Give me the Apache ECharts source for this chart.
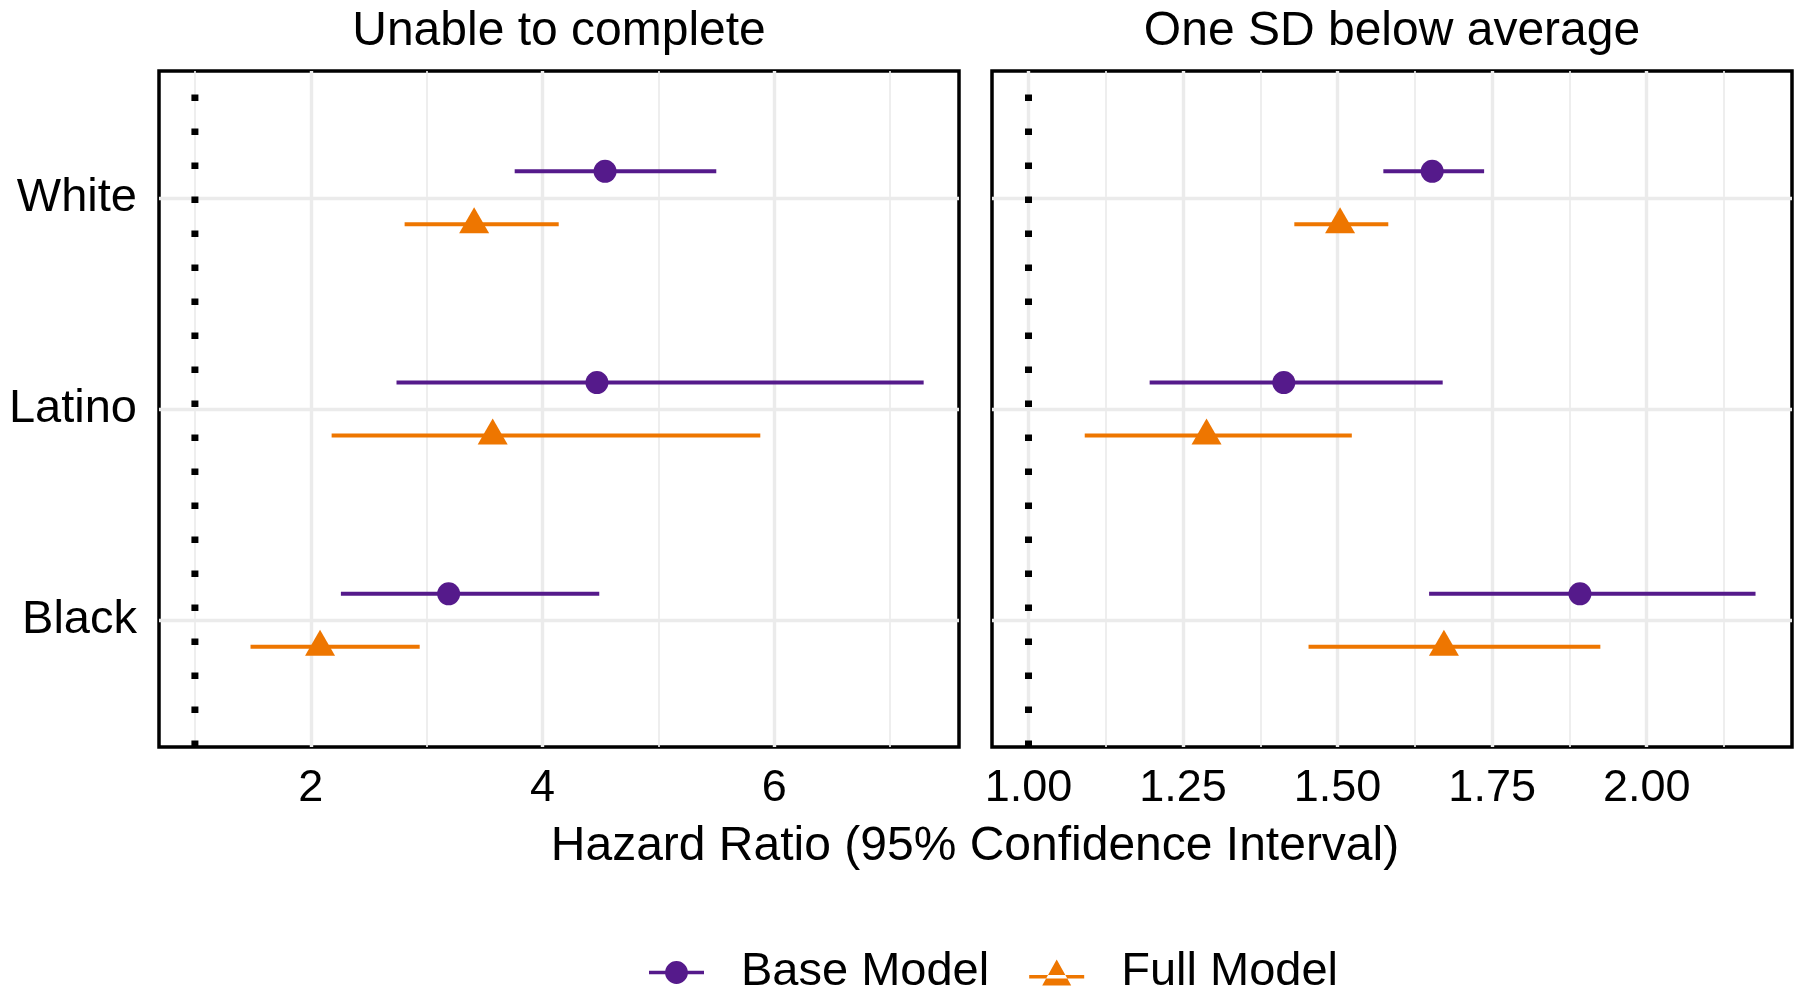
<!DOCTYPE html>
<html>
<head>
<meta charset="utf-8">
<title>Hazard Ratio</title>
<script src="https://cdn.jsdelivr.net/npm/echarts@6/dist/echarts.min.js"></script>
<style>
    html, body { margin: 0; padding: 0; background: #fff; }
    #chart { width: 1800px; height: 1003px; }
</style>
</head>
<body>
<div id="chart"></div>
<script>
// 类别（从上到下）
var categories = ['White', 'Latino', 'Black'];
var categoryPos = [3, 2, 1];

// 左图：Unable to complete
var ucBaseEst = [4.54, 4.47, 3.19];
var ucBaseLo = [3.76, 2.74, 2.26];
var ucBaseHi = [5.50, 7.29, 4.49];
var ucFullEst = [3.41, 3.57, 2.08];
var ucFullLo = [2.81, 2.18, 1.48];
var ucFullHi = [4.14, 5.88, 2.94];

// 右图：One SD below average
var sdBaseEst = [1.653, 1.413, 1.892];
var sdBaseLo = [1.574, 1.196, 1.648];
var sdBaseHi = [1.737, 1.670, 2.176];
var sdFullEst = [1.504, 1.288, 1.672];
var sdFullLo = [1.430, 1.091, 1.453];
var sdFullHi = [1.582, 1.523, 1.925];

// 刻度
var ucTicks = [2, 4, 6];
var ucMinor = [1, 3, 5, 7];
var sdTicks = [1.00, 1.25, 1.50, 1.75, 2.00];
var sdMinor = [1.125, 1.375, 1.625, 1.875, 2.125];

var refValue = 1;          // 参考线 HR = 1
var yMin = 0.4, yMax = 3.6;
var dodge = 0.125;

var purple = '#551A8B';
var orange = '#EE7600';
var font = "'Liberation Sans', Arial, Helvetica, sans-serif";

// 误差线数据 [lo, hi, y]
function barData(lo, hi, off) {
    var arr = [];
    for (var i = 0; i < lo.length; i++) {
        arr.push([lo[i], hi[i], categoryPos[i] + off]);
    }
    return arr;
}
function pointData(est, off) {
    var arr = [];
    for (var i = 0; i < est.length; i++) {
        arr.push([est[i], categoryPos[i] + off]);
    }
    return arr;
}

function renderBar(color) {
    return function (params, api) {
        var p1 = api.coord([api.value(0), api.value(2)]);
        var p2 = api.coord([api.value(1), api.value(2)]);
        return {
            type: 'line',
            shape: { x1: p1[0], y1: p1[1], x2: p2[0], y2: p2[1] },
            style: { stroke: color, lineWidth: 4 }
        };
    };
}

function xAxes(gridIndex, min, max, ticks, minor, fmt) {
    return [{
        type: 'value', gridIndex: gridIndex, position: 'bottom',
        min: min, max: max,
        axisLine: { show: false },
        axisTick: { show: false, customValues: ticks },
        axisLabel: {
            customValues: ticks, formatter: fmt, color: '#000',
            fontSize: 45, fontFamily: font, margin: 19
        },
        splitLine: { show: true, lineStyle: { color: '#ebebeb', width: 3.4 } }
    }, {
        type: 'value', gridIndex: gridIndex, position: 'bottom',
        min: min, max: max,
        axisLine: { show: false },
        axisTick: { show: false, customValues: minor },
        axisLabel: { show: false, customValues: minor },
        splitLine: { show: true, lineStyle: { color: '#ebebeb', width: 1.7 } }
    }];
}

function yAxis(gridIndex, showLabel) {
    return {
        type: 'value', gridIndex: gridIndex,
        min: yMin, max: yMax,
        axisLine: { show: false },
        axisTick: { show: false, customValues: categoryPos },
        axisLabel: {
            show: showLabel, customValues: categoryPos, color: '#000',
            fontSize: 47, fontFamily: font, margin: 22, padding: [5, 0, 0, 0],
            formatter: function (v) {
                return categories[categoryPos.indexOf(Math.round(v))];
            }
        },
        splitLine: { show: true, lineStyle: { color: '#ebebeb', width: 3.4 } }
    };
}

function panelSeries(idx, baseEst, baseLo, baseHi, fullEst, fullLo, fullHi) {
    var xa = idx * 2;
    return [{
        name: 'ref' + idx, type: 'line', xAxisIndex: xa, yAxisIndex: idx,
        data: [[refValue, yMin], [refValue, yMax]],
        symbol: 'none', silent: true, z: 3,
        lineStyle: { color: '#000', width: 7, type: [6.5, 27.5], cap: 'butt' }
    }, {
        name: 'Base Model', type: 'custom', xAxisIndex: xa, yAxisIndex: idx, z: 4,
        renderItem: renderBar(purple), data: barData(baseLo, baseHi, dodge)
    }, {
        name: 'Full Model', type: 'custom', xAxisIndex: xa, yAxisIndex: idx, z: 4,
        renderItem: renderBar(orange), data: barData(fullLo, fullHi, -dodge)
    }, {
        name: 'Base Model', type: 'scatter', xAxisIndex: xa, yAxisIndex: idx, z: 5,
        symbol: 'circle', symbolSize: 23,
        itemStyle: { color: purple, opacity: 1 },
        data: pointData(baseEst, dodge)
    }, {
        name: 'Full Model', type: 'scatter', xAxisIndex: xa, yAxisIndex: idx, z: 5,
        symbol: 'triangle', symbolSize: [30, 26], symbolOffset: [0, -4],
        itemStyle: { color: orange, opacity: 1 },
        data: pointData(fullEst, -dodge)
    }];
}

var gridBox = { top: 71, height: 676, width: 800, show: true, borderColor: '#000', borderWidth: 3.5, backgroundColor: 'transparent' };

var option = {
    animation: false,
    backgroundColor: '#fff',
    grid: [
        Object.assign({ left: 159 }, gridBox),
        Object.assign({ left: 992 }, gridBox)
    ],
    xAxis: xAxes(0, 0.69, 7.595, ucTicks, ucMinor, function (v) { return String(v); })
        .concat(xAxes(1, 0.941, 2.235, sdTicks, sdMinor, function (v) { return v.toFixed(2); })),
    yAxis: [yAxis(0, true), yAxis(1, false)],
    legend: {
        left: 644, top: 944,
        itemWidth: 55, itemHeight: 26, itemGap: 40,
        textStyle: { color: '#000', fontSize: 47, fontFamily: font, padding: [0, 0, 0, 32] },
        data: [{
            name: 'Base Model',
            icon: 'path://M0,11.5 L55,11.5 L55,15 L0,15 Z M27.5,1.9 A11.4,11.4 0 1,1 27.49,1.9 Z',
            itemStyle: { color: purple }
        }, {
            name: 'Full Model',
            icon: 'path://M0,15.5 L55,15.5 L55,19 L0,19 Z M13,26 L42,26 L27.5,0 Z',
            itemStyle: { color: orange }
        }]
    },
    graphic: [{
        type: 'text', x: 559, y: 32,
        style: { text: 'Unable to complete', fill: '#000', font: '48px ' + font, textAlign: 'center', textVerticalAlign: 'middle' }
    }, {
        type: 'text', x: 1392, y: 32,
        style: { text: 'One SD below average', fill: '#000', font: '48px ' + font, textAlign: 'center', textVerticalAlign: 'middle' }
    }, {
        type: 'text', x: 975, y: 847,
        style: { text: 'Hazard Ratio (95% Confidence Interval)', fill: '#000', font: '48px ' + font, textAlign: 'center', textVerticalAlign: 'middle' }
    }],
    series: panelSeries(0, ucBaseEst, ucBaseLo, ucBaseHi, ucFullEst, ucFullLo, ucFullHi)
        .concat(panelSeries(1, sdBaseEst, sdBaseLo, sdBaseHi, sdFullEst, sdFullLo, sdFullHi))
};

var myChart = echarts.init(document.getElementById('chart'));
myChart.setOption(option, true);
</script>
</body>
</html>
